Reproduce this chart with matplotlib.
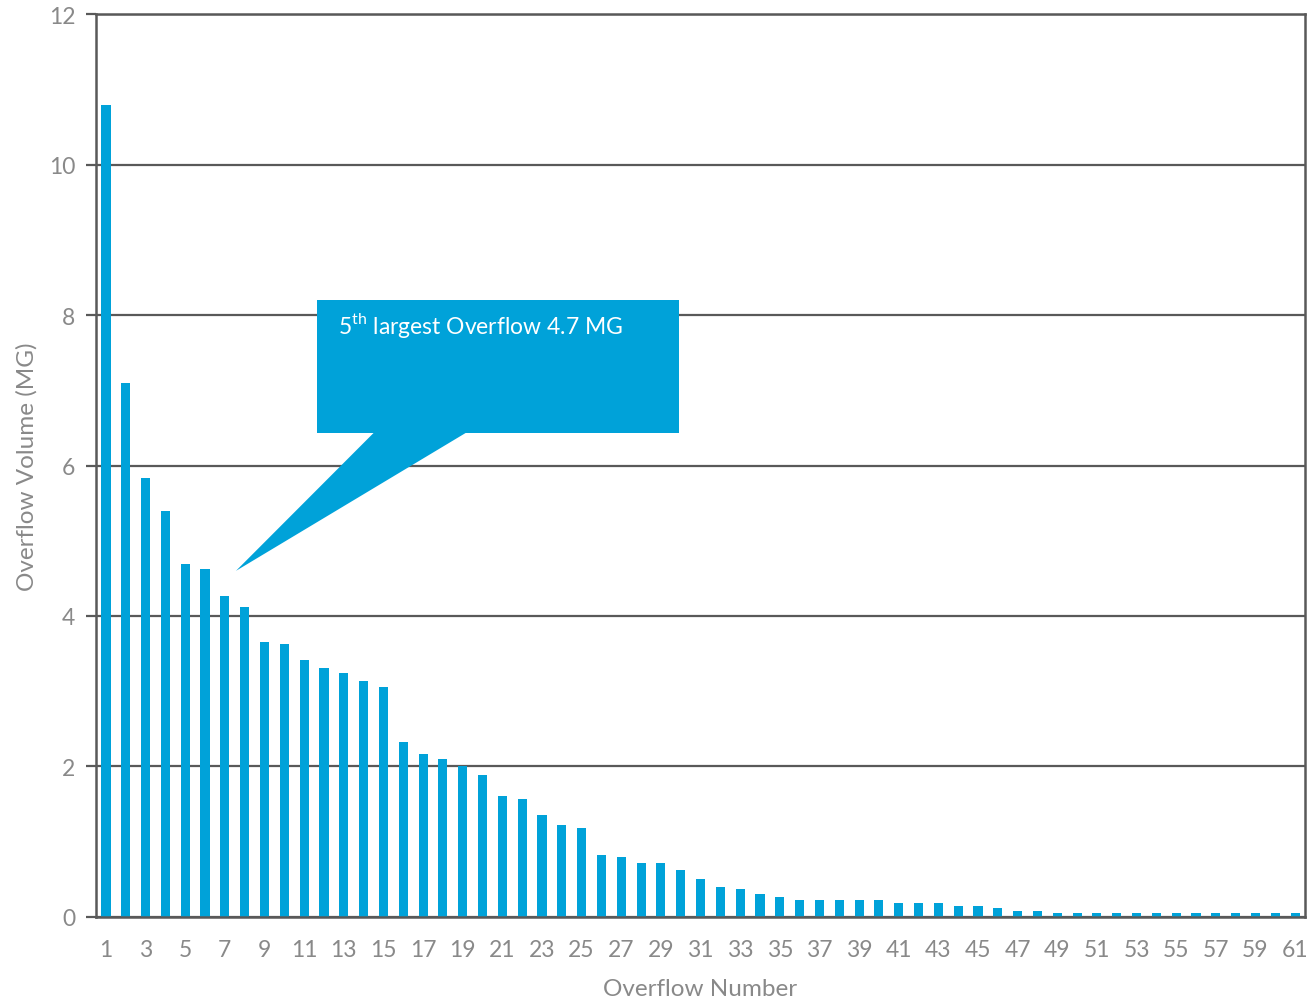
import matplotlib
matplotlib.use('Agg')
import matplotlib.pyplot as plt
from matplotlib.patches import Polygon, Rectangle

# Overflow volumes (MG), sorted largest to smallest
overflow_numbers = list(range(1, 62))
volumes = [
    10.79, 7.10, 5.83, 5.40, 4.69, 4.62, 4.27, 4.12, 3.66, 3.63,
    3.42, 3.31, 3.24, 3.13, 3.06, 2.32, 2.17, 2.10, 2.00, 1.89,
    1.61, 1.57, 1.36, 1.22, 1.18, 0.83, 0.80, 0.72, 0.72, 0.62,
    0.51, 0.40, 0.37, 0.30, 0.26, 0.23, 0.23, 0.23, 0.23, 0.23,
    0.19, 0.19, 0.19, 0.15, 0.15, 0.12, 0.08, 0.08, 0.05, 0.05,
    0.05, 0.05, 0.05, 0.05, 0.05, 0.05, 0.05, 0.05, 0.05, 0.05,
    0.05,
]
x_tick_labels = list(range(1, 62, 2))
y_ticks = [0, 2, 4, 6, 8, 10, 12]
callout_text = r"5$^{\mathrm{th}}$ largest Overflow 4.7 MG"

bar_color = '#00A2D9'
line_color = '#595959'
text_color = '#898989'

plt.rcParams['font.family'] = ['Lato', 'DejaVu Sans']
plt.rcParams['mathtext.fontset'] = 'custom'
plt.rcParams['mathtext.rm'] = 'Lato'

fig = plt.figure(figsize=(13.12, 10.04), dpi=100)
ax = fig.add_axes([0.0732, 0.0857, 0.9215, 0.8993])

ax.bar(overflow_numbers, volumes, width=0.46, color=bar_color, zorder=3)

ax.set_xlim(0.5, 61.5)
ax.set_ylim(0, 12)
ax.set_yticks(y_ticks)
ax.set_xticks(x_tick_labels)

# Grid
ax.yaxis.grid(True, color=line_color, linewidth=1.6, zorder=1)
ax.set_axisbelow(True)

for side in ['left', 'bottom', 'top', 'right']:
    ax.spines[side].set_color(line_color)
    ax.spines[side].set_linewidth(1.8)
    ax.spines[side].set_zorder(4)

ax.tick_params(axis='y', length=7, width=1.6, color=line_color,
               labelcolor=text_color, labelsize=16.5, pad=8)
ax.tick_params(axis='x', length=0, labelcolor=text_color, labelsize=16.5, pad=16)

ax.set_ylabel("Overflow Volume (MG)", color=text_color, fontsize=17.5, labelpad=8)
ax.set_xlabel("Overflow Number", color=text_color, fontsize=17.5, labelpad=13)

# Callout box pointing at the 5th largest overflow
ax.add_patch(Rectangle((11.64, 6.43), 18.26, 1.77, facecolor=bar_color,
                       edgecolor='none', zorder=5))
ax.add_patch(Polygon([(14.57, 6.45), (19.26, 6.45), (7.56, 4.60)], closed=True,
                     facecolor=bar_color, edgecolor='none', zorder=5))
ax.text(12.7, 7.88, callout_text, color='white', fontsize=16.5,
        ha='left', va='center', zorder=6)

plt.savefig('out.png', dpi=100)
plt.close()
